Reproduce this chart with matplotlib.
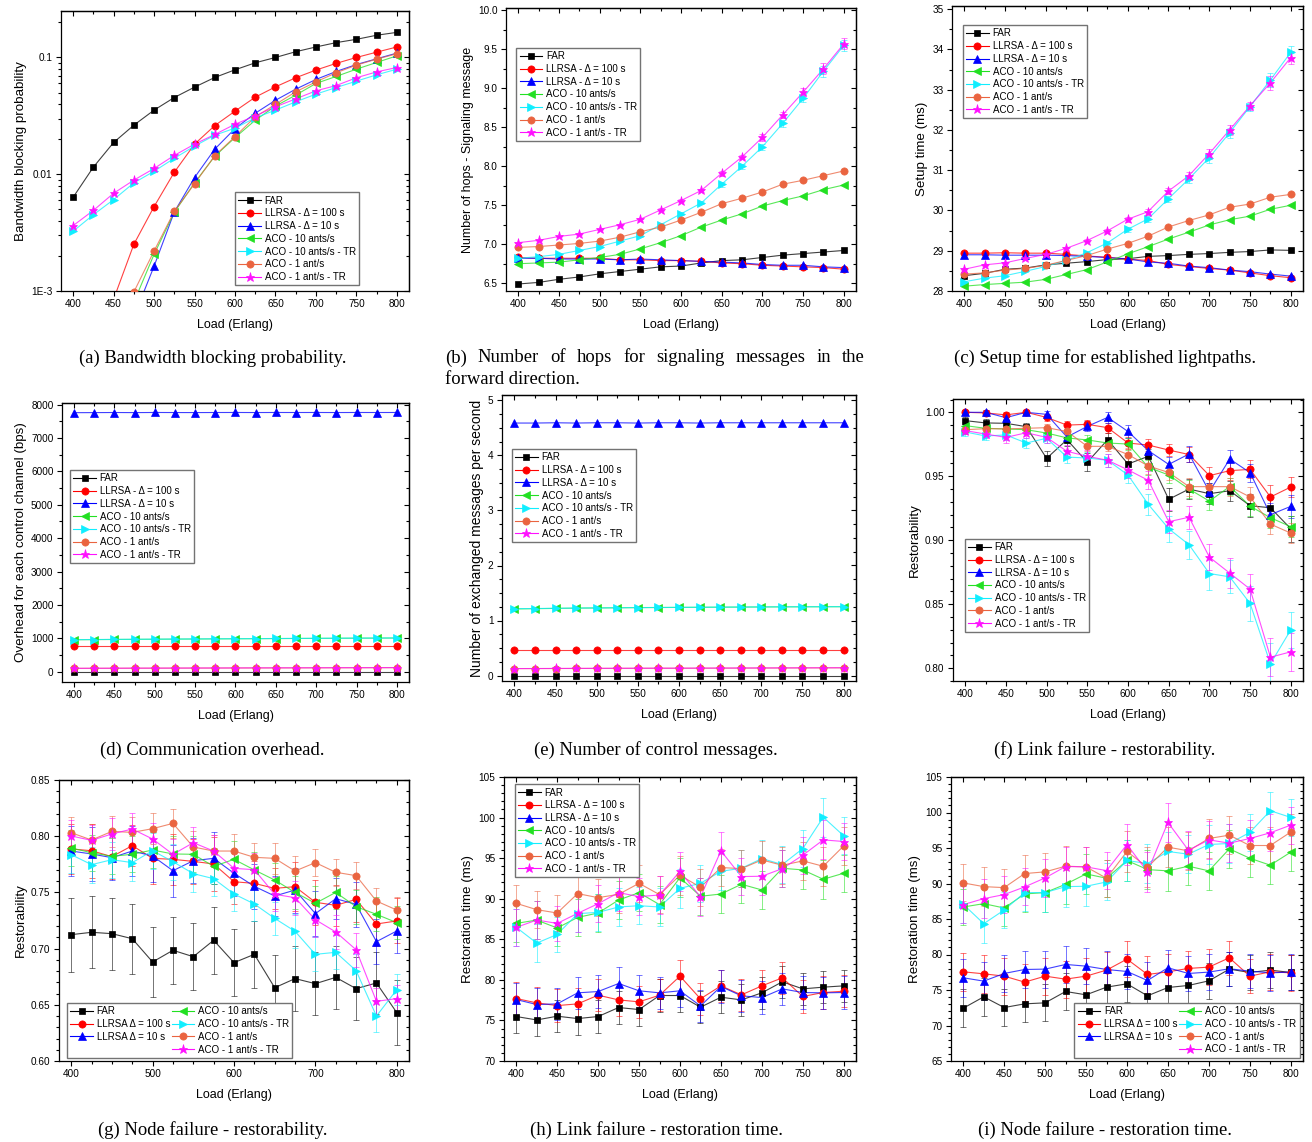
import matplotlib
matplotlib.use('Agg')
import matplotlib.pyplot as plt
from matplotlib.ticker import MultipleLocator, FixedLocator, FixedFormatter, LogLocator, FormatStrFormatter, NullFormatter
from matplotlib.lines import Line2D

plt.rcParams['font.family'] = ['Liberation Sans', 'DejaVu Sans']

W, H = 1312, 1142

load = [400, 425, 450, 475, 500, 525, 550, 575, 600, 625, 650, 675, 700, 725, 750, 775, 800]

labels = ['FAR', 'LLRSA - Δ = 100 s', 'LLRSA - Δ = 10 s', 'ACO - 10 ants/s',
          'ACO - 10 ants/s - TR', 'ACO - 1 ant/s', 'ACO - 1 ant/s - TR']
labels_node = ['FAR', 'LLRSA Δ = 100 s', 'LLRSA Δ = 10 s', 'ACO - 10 ants/s',
               'ACO - 10 ants/s - TR', 'ACO - 1 ant/s', 'ACO - 1 ant/s - TR']

# (a) bandwidth blocking probability
bbp_far = [0.00635, 0.0115, 0.0187, 0.0263, 0.0354, 0.0454, 0.0557, 0.0674, 0.0784, 0.090, 0.100, 0.112, 0.123, 0.134, 0.143, 0.155, 0.164]
bbp_llrsa100 = [0.00008, 0.0003, 0.00085, 0.00251, 0.00528, 0.0104, 0.0181, 0.0261, 0.0347, 0.0457, 0.056, 0.067, 0.078, 0.089, 0.100, 0.111, 0.123]
bbp_llrsa10 = [0.00002, 0.00008, 0.0002, 0.0006, 0.00163, 0.00475, 0.00936, 0.0164, 0.0246, 0.0333, 0.043, 0.0535, 0.0648, 0.0759, 0.087, 0.0974, 0.109]
bbp_aco10 = [0.00002, 0.00008, 0.00025, 0.0008, 0.00206, 0.00472, 0.00843, 0.01426, 0.0206, 0.029, 0.0383, 0.0476, 0.0599, 0.0688, 0.0794, 0.0906, 0.1033]
bbp_aco10tr = [0.00325, 0.0045, 0.00606, 0.00843, 0.0106, 0.0137, 0.0174, 0.0216, 0.0248, 0.0304, 0.0354, 0.0417, 0.0485, 0.0553, 0.0627, 0.071, 0.0794]
bbp_aco1 = [0.00002, 0.0001, 0.0003, 0.00098, 0.0022, 0.0048, 0.0083, 0.0144, 0.021, 0.031, 0.0396, 0.0508, 0.0618, 0.074, 0.086, 0.0968, 0.1075]
bbp_aco1tr = [0.00363, 0.0049, 0.00687, 0.0089, 0.0112, 0.0145, 0.0181, 0.0219, 0.0268, 0.0316, 0.0378, 0.0442, 0.0518, 0.0575, 0.067, 0.0753, 0.082]

# (b) number of hops
hops_far = [6.49, 6.51, 6.55, 6.58, 6.62, 6.65, 6.68, 6.71, 6.72, 6.76, 6.79, 6.80, 6.83, 6.86, 6.88, 6.90, 6.92]
hops_llrsa100 = [6.83, 6.82, 6.82, 6.82, 6.82, 6.80, 6.80, 6.79, 6.79, 6.78, 6.76, 6.75, 6.73, 6.72, 6.71, 6.70, 6.68]
hops_llrsa10 = [6.82, 6.82, 6.81, 6.81, 6.81, 6.80, 6.81, 6.80, 6.79, 6.78, 6.77, 6.76, 6.74, 6.73, 6.73, 6.71, 6.70]
hops_aco10 = [6.75, 6.76, 6.77, 6.80, 6.83, 6.87, 6.94, 7.02, 7.11, 7.22, 7.31, 7.39, 7.49, 7.56, 7.62, 7.70, 7.76]
hops_aco10tr = [6.82, 6.84, 6.87, 6.92, 6.97, 7.04, 7.11, 7.25, 7.39, 7.53, 7.77, 8.00, 8.25, 8.55, 8.87, 9.22, 9.55]
hops_aco1 = [6.96, 6.97, 6.99, 7.01, 7.04, 7.09, 7.16, 7.22, 7.31, 7.41, 7.52, 7.59, 7.67, 7.77, 7.82, 7.88, 7.94]
hops_aco1tr = [7.02, 7.05, 7.10, 7.13, 7.19, 7.25, 7.32, 7.44, 7.56, 7.69, 7.91, 8.12, 8.37, 8.66, 8.95, 9.25, 9.57]
hops_tr_err = [0.01, 0.01, 0.01, 0.01, 0.01, 0.01, 0.02, 0.02, 0.02, 0.02, 0.03, 0.03, 0.04, 0.04, 0.05, 0.07, 0.07]

# (c) setup time
setup_far = [28.38, 28.44, 28.54, 28.57, 28.65, 28.69, 28.73, 28.78, 28.80, 28.86, 28.88, 28.91, 28.93, 28.96, 28.98, 29.02, 29.01]
setup_llrsa100 = [28.94, 28.94, 28.95, 28.94, 28.94, 28.91, 28.87, 28.84, 28.79, 28.76, 28.66, 28.61, 28.56, 28.52, 28.45, 28.38, 28.33]
setup_llrsa10 = [28.90, 28.90, 28.89, 28.89, 28.89, 28.88, 28.86, 28.83, 28.80, 28.72, 28.69, 28.62, 28.58, 28.52, 28.48, 28.42, 28.37]
setup_aco10 = [28.12, 28.16, 28.19, 28.22, 28.29, 28.41, 28.53, 28.72, 28.92, 29.10, 29.29, 29.46, 29.64, 29.77, 29.86, 30.03, 30.13]
setup_aco10tr = [28.23, 28.32, 28.38, 28.49, 28.61, 28.76, 28.95, 29.19, 29.53, 29.79, 30.29, 30.78, 31.31, 31.93, 32.58, 33.24, 33.93]
setup_aco1 = [28.42, 28.45, 28.52, 28.56, 28.64, 28.76, 28.88, 29.04, 29.18, 29.36, 29.59, 29.75, 29.89, 30.08, 30.16, 30.33, 30.40]
setup_aco1tr = [28.54, 28.65, 28.70, 28.81, 28.91, 29.06, 29.25, 29.49, 29.78, 29.97, 30.48, 30.86, 31.41, 32.00, 32.60, 33.17, 33.80]
setup_tr_err = [0.03, 0.03, 0.03, 0.03, 0.03, 0.04, 0.04, 0.05, 0.06, 0.07, 0.08, 0.10, 0.12, 0.12, 0.10, 0.18, 0.15]

# (d) overhead per control channel
ovh_far = [0, 0, 0, 0, 0, 0, 0, 0, 0, 0, 0, 0, 0, 0, 0, 0, 0]
ovh_llrsa100 = [770, 770, 770, 770, 770, 770, 770, 770, 770, 770, 770, 770, 770, 770, 770, 770, 770]
ovh_llrsa10 = [7760, 7762, 7765, 7762, 7766, 7764, 7763, 7765, 7766, 7764, 7766, 7765, 7766, 7764, 7766, 7765, 7766]
ovh_aco10 = [955, 960, 964, 968, 971, 975, 978, 982, 985, 988, 991, 994, 997, 1000, 1003, 1005, 1008]
ovh_aco10tr = [960, 963, 967, 970, 974, 977, 981, 984, 987, 990, 994, 996, 999, 1002, 1005, 1007, 1010]
ovh_aco1 = [98, 100, 101, 103, 104, 106, 107, 108, 110, 111, 112, 113, 115, 116, 117, 118, 120]
ovh_aco1tr = [100, 102, 103, 105, 106, 107, 109, 110, 111, 113, 114, 115, 116, 118, 119, 120, 121]

# (e) control messages per second
msg_far = [0, 0, 0, 0, 0, 0, 0, 0, 0, 0, 0, 0, 0, 0, 0, 0, 0]
msg_llrsa100 = [0.455, 0.455, 0.455, 0.455, 0.455, 0.455, 0.455, 0.455, 0.455, 0.455, 0.455, 0.455, 0.455, 0.455, 0.455, 0.455, 0.455]
msg_llrsa10 = [4.59, 4.59, 4.595, 4.59, 4.595, 4.595, 4.59, 4.595, 4.595, 4.59, 4.595, 4.595, 4.595, 4.595, 4.595, 4.595, 4.595]
msg_aco10 = [1.21, 1.215, 1.22, 1.225, 1.228, 1.231, 1.234, 1.236, 1.238, 1.240, 1.242, 1.244, 1.246, 1.248, 1.249, 1.250, 1.251]
msg_aco10tr = [1.215, 1.218, 1.222, 1.226, 1.229, 1.232, 1.235, 1.237, 1.239, 1.241, 1.243, 1.245, 1.247, 1.249, 1.250, 1.251, 1.252]
msg_aco1 = [0.125, 0.126, 0.127, 0.128, 0.129, 0.130, 0.131, 0.132, 0.132, 0.133, 0.134, 0.135, 0.136, 0.137, 0.138, 0.139, 0.140]
msg_aco1tr = [0.126, 0.127, 0.128, 0.129, 0.130, 0.131, 0.132, 0.133, 0.133, 0.134, 0.135, 0.136, 0.137, 0.138, 0.139, 0.140, 0.141]

# (f) link failure restorability
lres_far = [0.9935, 0.9917, 0.9914, 0.9888, 0.964, 0.9786, 0.961, 0.9786, 0.9596, 0.9656, 0.932, 0.940, 0.9364, 0.9387, 0.927, 0.9254, 0.909]
lres_llrsa100 = [1.0, 0.9995, 0.998, 1.0, 0.996, 0.990, 0.9906, 0.988, 0.976, 0.9744, 0.9705, 0.967, 0.9505, 0.9544, 0.9554, 0.9338, 0.9416]
lres_llrsa10 = [1.0, 1.0, 0.9958, 1.0, 0.9984, 0.9807, 0.989, 0.996, 0.985, 0.970, 0.9593, 0.9674, 0.938, 0.9635, 0.9528, 0.920, 0.9265]
lres_aco10 = [0.9896, 0.9875, 0.987, 0.9864, 0.9838, 0.980, 0.9784, 0.976, 0.9752, 0.957, 0.951, 0.940, 0.9306, 0.942, 0.9267, 0.9176, 0.9106]
lres_aco10tr = [0.9846, 0.9815, 0.9823, 0.976, 0.9797, 0.965, 0.9643, 0.9625, 0.951, 0.928, 0.909, 0.8965, 0.874, 0.8714, 0.8506, 0.8034, 0.830]
lres_aco1 = [0.9864, 0.9872, 0.987, 0.9875, 0.988, 0.985, 0.9734, 0.9734, 0.967, 0.958, 0.953, 0.9419, 0.9419, 0.9419, 0.9338, 0.9126, 0.9056]
lres_aco1tr = [0.9857, 0.983, 0.9804, 0.984, 0.9804, 0.9695, 0.9656, 0.9625, 0.955, 0.9468, 0.9145, 0.918, 0.8868, 0.8743, 0.8618, 0.8086, 0.8128]
lres_far_err = [0.003, 0.003, 0.003, 0.003, 0.006, 0.005, 0.007, 0.005, 0.006, 0.006, 0.009, 0.008, 0.008, 0.008, 0.009, 0.010, 0.010]
lres_llrsa100_err = [0.002, 0.002, 0.002, 0.002, 0.003, 0.003, 0.003, 0.004, 0.005, 0.005, 0.005, 0.006, 0.007, 0.007, 0.007, 0.009, 0.008]
lres_llrsa10_err = [0.002, 0.002, 0.003, 0.002, 0.003, 0.004, 0.004, 0.004, 0.005, 0.006, 0.006, 0.006, 0.007, 0.007, 0.007, 0.009, 0.009]
lres_aco10_err = [0.003, 0.003, 0.003, 0.003, 0.003, 0.004, 0.004, 0.004, 0.005, 0.006, 0.006, 0.007, 0.007, 0.007, 0.008, 0.008, 0.008]
lres_aco10tr_err = [0.003, 0.003, 0.004, 0.004, 0.004, 0.005, 0.005, 0.005, 0.006, 0.008, 0.010, 0.011, 0.013, 0.013, 0.014, 0.016, 0.014]
lres_aco1_err = [0.003, 0.003, 0.003, 0.003, 0.003, 0.004, 0.004, 0.004, 0.005, 0.006, 0.006, 0.007, 0.007, 0.007, 0.008, 0.008, 0.008]
lres_aco1tr_err = [0.003, 0.003, 0.004, 0.004, 0.004, 0.005, 0.005, 0.005, 0.006, 0.007, 0.009, 0.009, 0.010, 0.012, 0.012, 0.015, 0.015]

# (g) node failure restorability
nres_far = [0.7124, 0.7145, 0.7133, 0.7088, 0.6881, 0.6985, 0.6928, 0.7074, 0.6875, 0.6949, 0.6652, 0.6733, 0.6688, 0.6744, 0.6644, 0.6694, 0.643]
nres_llrsa100 = [0.7886, 0.7871, 0.7818, 0.7916, 0.7803, 0.7794, 0.7776, 0.7753, 0.7595, 0.758, 0.7536, 0.7551, 0.7412, 0.7385, 0.7438, 0.7219, 0.7246]
nres_llrsa10 = [0.7868, 0.7842, 0.7809, 0.7868, 0.7824, 0.7693, 0.7782, 0.7803, 0.767, 0.7554, 0.7468, 0.7521, 0.7311, 0.7444, 0.7394, 0.7062, 0.7157]
nres_aco10 = [0.7895, 0.7853, 0.7821, 0.7839, 0.7877, 0.7842, 0.7839, 0.7732, 0.7794, 0.770, 0.761, 0.750, 0.7403, 0.750, 0.7373, 0.7305, 0.7231]
nres_aco10tr = [0.7836, 0.7747, 0.7791, 0.7765, 0.7871, 0.7773, 0.7667, 0.7622, 0.7486, 0.7397, 0.7269, 0.7154, 0.6949, 0.6967, 0.6804, 0.640, 0.6635]
nres_aco1 = [0.8031, 0.7966, 0.8043, 0.8034, 0.8067, 0.8114, 0.7904, 0.7868, 0.7868, 0.7812, 0.7803, 0.769, 0.7765, 0.7679, 0.7649, 0.7423, 0.7343]
nres_aco1tr = [0.8002, 0.7963, 0.802, 0.8064, 0.7975, 0.7839, 0.7942, 0.7868, 0.7714, 0.7702, 0.7483, 0.7453, 0.7257, 0.7148, 0.699, 0.6531, 0.6555]
nres_far_err = [0.033, 0.032, 0.032, 0.031, 0.031, 0.030, 0.030, 0.030, 0.030, 0.030, 0.029, 0.029, 0.028, 0.028, 0.028, 0.028, 0.029]
nres_llrsa100_err = [0.022, 0.024, 0.020, 0.018, 0.023, 0.023, 0.020, 0.024, 0.020, 0.020, 0.018, 0.022, 0.020, 0.018, 0.020, 0.020, 0.020]
nres_llrsa10_err = [0.022, 0.024, 0.020, 0.022, 0.023, 0.023, 0.020, 0.023, 0.020, 0.020, 0.018, 0.020, 0.020, 0.018, 0.020, 0.020, 0.020]
nres_aco10_err = [0.016, 0.016, 0.016, 0.016, 0.016, 0.016, 0.016, 0.016, 0.016, 0.016, 0.015, 0.015, 0.015, 0.015, 0.015, 0.015, 0.015]
nres_aco10tr_err = [0.016, 0.016, 0.016, 0.016, 0.016, 0.016, 0.016, 0.015, 0.015, 0.015, 0.015, 0.015, 0.015, 0.015, 0.015, 0.014, 0.014]
nres_aco1_err = [0.014, 0.014, 0.014, 0.014, 0.014, 0.013, 0.014, 0.014, 0.015, 0.013, 0.014, 0.013, 0.012, 0.012, 0.012, 0.012, 0.012]
nres_aco1tr_err = [0.014, 0.014, 0.014, 0.014, 0.014, 0.014, 0.014, 0.014, 0.015, 0.015, 0.015, 0.015, 0.015, 0.015, 0.015, 0.012, 0.012]

# (h) link failure restoration time
lrt_far = [75.48, 75.06, 75.52, 75.23, 75.48, 76.59, 76.34, 78.07, 78.07, 76.63, 77.86, 77.53, 78.4, 79.76, 78.89, 79.1, 79.26]
lrt_llrsa100 = [77.7, 77.16, 76.83, 77.04, 78.11, 77.53, 77.29, 78.11, 80.46, 77.66, 79.26, 78.15, 79.26, 80.25, 77.95, 78.44, 78.6]
lrt_llrsa10 = [77.57, 76.96, 77.04, 78.4, 78.56, 79.55, 78.65, 78.4, 78.65, 76.79, 79.18, 78.03, 77.82, 78.89, 78.44, 78.4, 78.44]
lrt_aco10 = [86.96, 87.37, 86.39, 87.7, 88.24, 89.84, 90.75, 89.27, 92.6, 90.3, 90.58, 91.78, 91.08, 93.75, 93.55, 92.4, 93.14]
lrt_aco10tr = [86.47, 84.53, 85.6, 88.16, 88.32, 88.98, 89.14, 88.98, 91.28, 91.9, 93.38, 93.75, 94.95, 94.21, 96.18, 100.05, 97.75]
lrt_aco1 = [89.43, 88.65, 88.24, 90.63, 90.13, 90.54, 91.9, 90.5, 92.89, 91.41, 93.84, 93.71, 94.78, 94.12, 94.66, 94.0, 96.51]
lrt_aco1tr = [86.47, 87.37, 86.96, 88.2, 89.39, 90.75, 90.26, 90.46, 93.38, 90.21, 95.9, 92.73, 92.77, 93.71, 95.36, 97.25, 97.05]
lrt_low_err = [2.0, 2.0, 2.0, 2.0, 2.0, 2.0, 2.0, 2.0, 2.0, 2.0, 2.0, 2.0, 2.0, 2.0, 2.0, 2.0, 2.0]
lrt_high_err = [2.3, 2.3, 2.2, 2.3, 2.3, 2.3, 2.3, 2.3, 2.4, 2.3, 2.3, 2.3, 2.3, 2.3, 2.3, 2.4, 2.3]

# (i) node failure restoration time
nrt_far = [72.44, 74.04, 72.53, 73.05, 73.19, 74.79, 74.32, 75.4, 75.87, 74.18, 75.35, 75.64, 76.29, 77.94, 77.47, 77.8, 77.47]
nrt_llrsa100 = [77.56, 77.28, 76.95, 76.11, 76.95, 76.53, 76.95, 77.8, 79.35, 77.19, 77.56, 78.04, 78.22, 79.54, 76.95, 77.56, 77.42]
nrt_llrsa10 = [76.72, 76.25, 77.33, 77.89, 77.94, 78.6, 78.36, 77.89, 77.61, 76.34, 78.13, 77.33, 77.52, 77.99, 77.66, 77.42, 77.52]
nrt_aco10 = [86.69, 87.16, 86.55, 88.53, 88.72, 89.89, 91.35, 90.74, 93.24, 91.96, 91.78, 92.44, 91.78, 94.88, 93.56, 92.58, 94.41]
nrt_aco10tr = [87.07, 84.34, 86.27, 88.72, 88.72, 89.56, 89.61, 90.22, 93.24, 92.81, 94.51, 94.13, 95.49, 95.64, 97.19, 100.25, 99.31]
nrt_aco1 = [90.08, 89.56, 89.42, 91.4, 91.64, 92.44, 92.34, 90.74, 94.51, 92.29, 95.12, 94.6, 96.34, 96.81, 95.35, 95.35, 97.24]
nrt_aco1tr = [87.02, 87.87, 88.44, 89.52, 90.79, 92.39, 92.34, 91.82, 95.49, 91.64, 98.6, 94.69, 96.15, 95.68, 96.34, 97.14, 98.22]
nrt_low_err = [2.7, 2.7, 2.6, 2.6, 2.6, 2.6, 2.5, 2.6, 2.5, 2.6, 2.5, 2.5, 2.5, 2.4, 2.4, 2.5, 2.5]
nrt_high_err = [2.6, 2.7, 2.6, 2.6, 2.7, 2.8, 2.8, 2.6, 2.9, 2.8, 2.8, 2.7, 2.7, 2.7, 2.6, 2.6, 2.6]

colors = ['#000000', '#FF0000', '#0000FF', '#22E022', '#10EEFF', '#EA6440', '#FF10FF']
markers = ['s', 'o', '^', '<', '>', 'o', '*']
msizes = [4.6, 5.2, 5.2, 5.4, 5.4, 5.2, 6.6]

fig = plt.figure(figsize=(W / 100, H / 100), dpi=100)


def px_axes(l, t, r, b):
    return fig.add_axes([l / W, 1 - b / H, (r - l) / W, (b - t) / H])


def draw(ax, series, errs=None):
    for k, ys in enumerate(series):
        ax.plot(load, ys, color=colors[k], lw=0.8, alpha=0.75, zorder=2 + k * 0.1)
        e = errs[k] if errs is not None else None
        if e is not None:
            eb = ax.errorbar(load, ys, yerr=e, fmt='none', ecolor=colors[k],
                             elinewidth=0.7, capsize=2, capthick=0.7, zorder=2 + k * 0.1)
            for c in eb.lines[1] + eb.lines[2]:
                c.set_alpha(0.55)
        ax.plot(load, ys, linestyle='none', marker=markers[k], ms=msizes[k],
                color=colors[k], mec=colors[k], mew=0.5, zorder=3 + k * 0.1)


def handles():
    return [Line2D([0], [0], color=colors[k], lw=0.8, marker=markers[k],
                   ms=msizes[k], mec=colors[k], mew=0.5) for k in range(7)]


def legend(ax, labs, loc, anchor, ncol=1):
    hs = handles()
    labs = list(labs)
    if ncol == 2:
        hs.insert(3, Line2D([0], [0], linestyle='none'))
        labs.insert(3, '')
    ax.legend(hs, labs, loc=loc, bbox_to_anchor=anchor, ncol=ncol, fontsize=7,
              frameon=True, fancybox=False, edgecolor='0.45', framealpha=1,
              handlelength=2.3, handletextpad=0.4, labelspacing=0.28,
              borderpad=0.35, borderaxespad=0, columnspacing=0.15)


def setup(ax, ylim, ymaj=None, ymin=None, fmt=None, xmaj=50, log=False, ylabel='', ylsize=9.6):
    ax.set_xlim(385, 815)
    if log:
        ax.set_yscale('log')
    ax.set_ylim(*ylim)
    ax.xaxis.set_major_locator(MultipleLocator(xmaj))
    ax.xaxis.set_minor_locator(MultipleLocator(25))
    if log:
        ax.yaxis.set_major_locator(FixedLocator([1e-3, 1e-2, 1e-1]))
        ax.yaxis.set_major_formatter(FixedFormatter(['1E-3', '0.01', '0.1']))
        ax.yaxis.set_minor_locator(LogLocator(subs=range(2, 10)))
        ax.yaxis.set_minor_formatter(NullFormatter())
    else:
        ax.yaxis.set_major_locator(MultipleLocator(ymaj))
        ax.yaxis.set_minor_locator(MultipleLocator(ymin))
        ax.yaxis.set_major_formatter(FormatStrFormatter(fmt))
    ax.tick_params(which='both', direction='out', labelsize=7.2, width=0.8, pad=2.5)
    ax.tick_params(which='major', length=3.6)
    ax.tick_params(which='minor', length=2)
    for sp in ax.spines.values():
        sp.set_linewidth(0.9)
    top = ax.secondary_xaxis('top')
    top.xaxis.set_major_locator(MultipleLocator(xmaj))
    top.xaxis.set_minor_locator(MultipleLocator(25))
    top.xaxis.set_major_formatter(NullFormatter())
    right = ax.secondary_yaxis('right')
    if log:
        right.yaxis.set_major_locator(FixedLocator([1e-3, 1e-2, 1e-1]))
        right.yaxis.set_minor_locator(LogLocator(subs=range(2, 10)))
    else:
        right.yaxis.set_major_locator(MultipleLocator(ymaj))
        right.yaxis.set_minor_locator(MultipleLocator(ymin))
    right.yaxis.set_major_formatter(NullFormatter())
    right.yaxis.set_minor_formatter(NullFormatter())
    for s in (top, right):
        s.tick_params(which='both', direction='in', width=0.8)
        s.tick_params(which='major', length=3.6)
        s.tick_params(which='minor', length=2)
        for sp in s.spines.values():
            sp.set_linewidth(0.9)
    ax.set_xlabel('Load (Erlang)', fontsize=9, labelpad=7)
    ax.set_ylabel(ylabel, fontsize=ylsize, labelpad=3)


# (a)
ax = px_axes(61, 11, 409, 291)
draw(ax, [bbp_far, bbp_llrsa100, bbp_llrsa10, bbp_aco10, bbp_aco10tr, bbp_aco1, bbp_aco1tr])
setup(ax, (1e-3, 0.25), log=True, ylabel='Bandwidth blocking probability')
legend(ax, labels, 'lower right', (0.857, 0.02))

# (b)
ax = px_axes(506, 8, 856, 291)
draw(ax, [hops_far, hops_llrsa100, hops_llrsa10, hops_aco10, hops_aco10tr, hops_aco1, hops_aco1tr],
     [None, None, None, None, hops_tr_err, None, hops_tr_err])
setup(ax, (6.4, 10.03), 0.5, 0.25, '%.1f', ylabel='Number of hops - Signaling message', ylsize=9)
legend(ax, labels, 'upper left', (0.029, 0.859))

# (c)
ax = px_axes(952, 6, 1303, 291)
draw(ax, [setup_far, setup_llrsa100, setup_llrsa10, setup_aco10, setup_aco10tr, setup_aco1, setup_aco1tr],
     [None, None, None, None, setup_tr_err, None, setup_tr_err])
setup(ax, (28, 35.08), 1, 0.5, '%d', ylabel='Setup time (ms)')
legend(ax, labels, 'upper left', (0.031, 0.933))

# (d)
ax = px_axes(62, 403, 409, 682)
draw(ax, [ovh_far, ovh_llrsa100, ovh_llrsa10, ovh_aco10, ovh_aco10tr, ovh_aco1, ovh_aco1tr])
setup(ax, (-310, 8050), 1000, 500, '%d', ylabel='Overhead for each control channel (bps)')
legend(ax, labels, 'upper left', (0.023, 0.76))

# (e)
ax = px_axes(502, 395, 856, 681)
draw(ax, [msg_far, msg_llrsa100, msg_llrsa10, msg_aco10, msg_aco10tr, msg_aco1, msg_aco1tr])
setup(ax, (-0.1, 5.1), 1, 0.25, '%d', ylabel='Number of exchanged messages per second', ylsize=10)
legend(ax, labels, 'upper left', (0.028, 0.811))

# (f)
ax = px_axes(953, 399, 1303, 681)
draw(ax, [lres_far, lres_llrsa100, lres_llrsa10, lres_aco10, lres_aco10tr, lres_aco1, lres_aco1tr],
     [lres_far_err, lres_llrsa100_err, lres_llrsa10_err, lres_aco10_err, lres_aco10tr_err, lres_aco1_err, lres_aco1tr_err])
setup(ax, (0.79, 1.0104), 0.05, 0.01, '%.2f', ylabel='Restorability')
legend(ax, labels, 'upper left', (0.034, 0.504))

# (g)
ax = px_axes(59, 780, 409, 1061)
draw(ax, [nres_far, nres_llrsa100, nres_llrsa10, nres_aco10, nres_aco10tr, nres_aco1, nres_aco1tr],
     [nres_far_err, nres_llrsa100_err, nres_llrsa10_err, nres_aco10_err, nres_aco10tr_err, nres_aco1_err, nres_aco1tr_err])
setup(ax, (0.60, 0.85), 0.05, 0.01, '%.2f', xmaj=100, ylabel='Restorability')
legend(ax, labels_node, 'lower left', (0.023, 0.011), ncol=2)

# (h)
ax = px_axes(504, 777, 856, 1061)
draw(ax, [lrt_far, lrt_llrsa100, lrt_llrsa10, lrt_aco10, lrt_aco10tr, lrt_aco1, lrt_aco1tr],
     [lrt_low_err, lrt_low_err, lrt_low_err, lrt_high_err, lrt_high_err, lrt_high_err, lrt_high_err])
setup(ax, (70, 105), 5, 1, '%d', ylabel='Restoration time (ms)')
legend(ax, labels, 'upper left', (0.031, 0.975))

# (i)
ax = px_axes(951, 777, 1303, 1061)
draw(ax, [nrt_far, nrt_llrsa100, nrt_llrsa10, nrt_aco10, nrt_aco10tr, nrt_aco1, nrt_aco1tr],
     [nrt_low_err, nrt_low_err, nrt_low_err, nrt_high_err, nrt_high_err, nrt_high_err, nrt_high_err])
setup(ax, (65, 105), 5, 1, '%d', ylabel='Restoration time (ms)')
legend(ax, labels_node, 'lower right', (0.991, 0.011), ncol=2)

# captions
cap = dict(ha='center', va='center', fontfamily=['Liberation Serif', 'DejaVu Serif'], fontsize=13.4)


def caption(x, y, s, **kw):
    d = dict(cap)
    d.update(kw)
    return fig.text(x / W, 1 - y / H, s, **d)


caption(213, 358, '(a) Bandwidth blocking probability.')
caption(1105, 358, '(c) Setup time for established lightpaths.')
caption(212, 750, '(d) Communication overhead.')
caption(656, 750, '(e) Number of control messages.')
caption(1105, 750, '(f) Link failure - restorability.')
caption(213, 1130, '(g) Node failure - restorability.')
caption(656, 1130, '(h) Link failure - restoration time.')
caption(1105, 1130, '(i) Node failure - restoration time.')

# (b) caption, first line justified between x0 and x1
words = '(b) Number of hops for signaling messages in the'.split()
x0, x1 = 445, 865
wtexts = [caption(x0, 358, w, ha='left') for w in words]
fig.canvas.draw()
rend = fig.canvas.get_renderer()
widths = [t.get_window_extent(rend).width for t in wtexts]
gap = (x1 - x0 - sum(widths)) / (len(words) - 1)
xx = x0
for t, w in zip(wtexts, widths):
    t.set_x(xx / W)
    xx += w + gap
caption(x0, 380, 'forward direction.', ha='left')

fig.savefig('out.png', dpi=100)
